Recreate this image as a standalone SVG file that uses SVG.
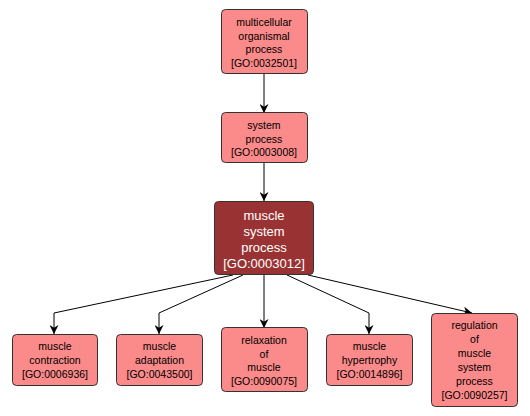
<svg xmlns="http://www.w3.org/2000/svg" width="530" height="416" viewBox="0 0 530 416">
<defs>
<marker id="arr" viewBox="0 0 10 10" refX="10" refY="5" markerWidth="9" markerHeight="9" markerUnits="userSpaceOnUse" orient="auto">
<path d="M0,0 L10,5 L0,10 L3,5 Z" fill="#000"/>
</marker>
</defs>
<style>
.n rect{fill:#fb8a8a;stroke:#333;stroke-width:1}
.m rect{fill:#993333;stroke:#333;stroke-width:1}
text{font-family:"Liberation Sans",Arial,sans-serif;font-size:10.5px;text-anchor:middle;fill:#000}
.m text{font-size:13px;fill:#fff}
.e path{fill:none;stroke:#000;stroke-width:1;marker-end:url(#arr)}
</style>
<rect width="530" height="416" fill="#fff"/>
<g class="e" id="edges">
<path d="M264,74 V113"/>
<path d="M264,163 V201"/>
<path d="M233,275 L54,313 V334"/>
<path d="M243,275 L159,313 V334"/>
<path d="M264,275 V328"/>
<path d="M287,275 L369,313 V334"/>
<path d="M308,275 L472,313"/>
</g>
<g class="n" id="GO0032501">
<rect x="221.5" y="9.5" width="86" height="64" rx="4"/>
<text x="264" y="26">multicellular</text>
<text x="264" y="39.5">organismal</text>
<text x="264" y="53">process</text>
<text x="264" y="67">[GO:0032501]</text>
</g>
<g class="n" id="GO0003008">
<rect x="221.5" y="112.5" width="86" height="50" rx="4"/>
<text x="264" y="129">system</text>
<text x="264" y="142.5">process</text>
<text x="264" y="156">[GO:0003008]</text>
</g>
<g class="m" id="GO0003012">
<rect x="214.5" y="201.5" width="99" height="73" rx="4"/>
<text x="264" y="219.5">muscle</text>
<text x="264" y="235.5">system</text>
<text x="264" y="251.5">process</text>
<text x="264" y="267.5">[GO:0003012]</text>
</g>
<g class="n" id="GO0006936">
<rect x="12.5" y="334.5" width="85" height="51" rx="4"/>
<text x="55" y="350">muscle</text>
<text x="55" y="364">contraction</text>
<text x="55" y="378">[GO:0006936]</text>
</g>
<g class="n" id="GO0043500">
<rect x="116.5" y="334.5" width="86" height="51" rx="4"/>
<text x="159.5" y="350">muscle</text>
<text x="159.5" y="364">adaptation</text>
<text x="159.5" y="378">[GO:0043500]</text>
</g>
<g class="n" id="GO0090075">
<rect x="221.5" y="327.5" width="86" height="64" rx="4"/>
<text x="264" y="344">relaxation</text>
<text x="264" y="357.5">of</text>
<text x="264" y="371">muscle</text>
<text x="264" y="385">[GO:0090075]</text>
</g>
<g class="n" id="GO0014896">
<rect x="326.5" y="334.5" width="86" height="51" rx="4"/>
<text x="369.5" y="350">muscle</text>
<text x="369.5" y="364">hypertrophy</text>
<text x="369.5" y="378">[GO:0014896]</text>
</g>
<g class="n" id="GO0090257">
<rect x="431.5" y="313.5" width="86" height="93" rx="4"/>
<text x="474.5" y="329">regulation</text>
<text x="474.5" y="343">of</text>
<text x="474.5" y="357">muscle</text>
<text x="474.5" y="371">system</text>
<text x="474.5" y="385">process</text>
<text x="474.5" y="399">[GO:0090257]</text>
</g>
</svg>
